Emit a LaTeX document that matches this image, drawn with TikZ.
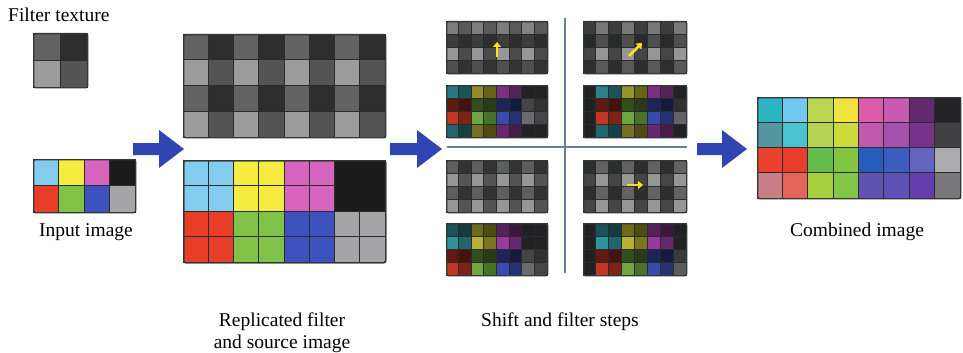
\documentclass[tikz,border=0pt]{standalone}
\usepackage{fontspec}
\setmainfont{Liberation Serif}
\usetikzlibrary{arrows.meta}
% base colours
\definecolor{sky}{RGB}{130,205,238}
\definecolor{tsky}{RGB}{60,185,200}
\definecolor{yel}{RGB}{245,235,65}
\definecolor{mag}{RGB}{215,100,190}
\definecolor{pmag}{RGB}{190,70,200}
\definecolor{blk}{RGB}{28,28,28}
\definecolor{nb}{RGB}{34,34,36}
\definecolor{red}{RGB}{232,62,40}
\definecolor{grn}{RGB}{128,195,72}
\definecolor{blu}{RGB}{62,82,190}
\definecolor{gry}{RGB}{165,165,168}
\definecolor{f1}{gray}{0.39}
\definecolor{f2}{gray}{0.18}
\definecolor{f3}{gray}{0.61}
\definecolor{f4}{gray}{0.33}
\definecolor{gridline}{RGB}{40,44,44}
\definecolor{framec}{RGB}{50,55,55}
\definecolor{arrowblue}{RGB}{48,68,178}
\definecolor{sepline}{RGB}{100,130,145}
\definecolor{yarr}{RGB}{250,222,40}
% combined image
\definecolor{ca1}{RGB}{45,180,195}\definecolor{ca2}{RGB}{115,200,240}\definecolor{ca3}{RGB}{185,215,80}\definecolor{ca4}{RGB}{240,228,60}
\definecolor{ca5}{RGB}{222,92,172}\definecolor{ca6}{RGB}{200,90,175}\definecolor{ca7}{RGB}{100,40,110}\definecolor{ca8}{RGB}{35,35,38}
\definecolor{cb1}{RGB}{85,150,160}\definecolor{cb2}{RGB}{75,195,208}\definecolor{cb3}{RGB}{180,212,82}\definecolor{cb4}{RGB}{205,218,60}
\definecolor{cb5}{RGB}{192,90,172}\definecolor{cb6}{RGB}{165,82,175}\definecolor{cb7}{RGB}{120,50,140}\definecolor{cb8}{RGB}{65,65,68}
\definecolor{cc1}{RGB}{235,65,45}\definecolor{cc2}{RGB}{232,60,45}\definecolor{cc3}{RGB}{100,188,75}\definecolor{cc4}{RGB}{130,196,65}
\definecolor{cc5}{RGB}{40,92,188}\definecolor{cc6}{RGB}{60,92,192}\definecolor{cc7}{RGB}{100,100,192}\definecolor{cc8}{RGB}{172,172,175}
\definecolor{cd1}{RGB}{200,125,135}\definecolor{cd2}{RGB}{228,100,92}\definecolor{cd3}{RGB}{165,208,60}\definecolor{cd4}{RGB}{130,200,70}
\definecolor{cd5}{RGB}{95,82,178}\definecolor{cd6}{RGB}{95,80,182}\definecolor{cd7}{RGB}{100,62,172}\definecolor{cd8}{RGB}{120,120,122}

\tikzset{
  frame/.style={draw=framec, line width=1.3pt, rounded corners=1.5pt, inner sep=0pt, anchor=north west},
  cellbox/.style={draw=gridline, line width=0.9pt},
  lbl/.style={font=\fontsize{19.5}{22}\selectfont, inner sep=0pt, text=black},
  blockarrow/.style={fill=arrowblue},
  yarrow/.style={draw=yarr, line width=2.6pt, -{Triangle[length=5pt,width=8pt]}},
  sep/.style={draw=sepline, line width=1.8pt}
}
% #1 name, #2 x0, #3 y0, #4 ncols, #5 nrows, #6 width, #7 height, #8 rows
\newcommand\cellgrid[8]{%
  \foreach \rowlist [count=\rr] in {#8} {
    \foreach \cc [count=\kk] in \rowlist {
      \path[cellbox, fill=\cc] ({#2+(\kk-1)*#6/#4},{#3+(\rr-1)*#7/#5}) rectangle ++({#6/#4},{#7/#5});
    }
  }
  \node[frame, minimum width=#6pt, minimum height=#7pt] (#1) at (#2,#3) {};
}
% #1 x start, #2 x tip, #3 y centre
\newcommand\blockarr[3]{%
  \path[blockarrow] (#1,{#3-6}) -- ({#2-25},{#3-6}) -- ({#2-25},{#3-19}) -- (#2,#3)
    -- ({#2-25},{#3+19}) -- ({#2-25},{#3+6}) -- (#1,{#3+6}) -- cycle;
}

\begin{document}
\begin{tikzpicture}[x=1pt,y=-1pt]
\path[fill=white, use as bounding box] (0,0) rectangle (963,353);

% filter texture
\node[lbl, anchor=base west] (tfilter) at (8,22) {Filter texture};
\cellgrid{filt}{33}{33}{2}{2}{54}{54}{{f1,f2},{f3,f4}}

% input image
\cellgrid{inp}{33}{159}{4}{2}{102}{53}{{sky,yel,mag,blk},{red,grn,blu,gry}}
\node[lbl, anchor=base] (tinp) at (86,236) {Input image};

% replicated filter and source
\cellgrid{repf}{183}{34}{8}{4}{202}{103}{{f1,f2,f1,f2,f1,f2,f1,f2},{f3,f4,f3,f4,f3,f4,f3,f4},{f1,f2,f1,f2,f1,f2,f1,f2},{f3,f4,f3,f4,f3,f4,f3,f4}}
\cellgrid{reps}{183}{160}{8}{4}{202}{102}{{sky,sky,yel,yel,mag,mag,blk,blk},{sky,sky,yel,yel,mag,mag,blk,blk},{red,red,grn,grn,blu,blu,gry,gry},{red,red,grn,grn,blu,blu,gry,gry}}
\path[fill=blk] (335.5,160.5) rectangle (384.5,210.5);
\node[frame, minimum width=202pt, minimum height=102pt] (repsframe) at (183,160) {};
\node[lbl, anchor=base] (trep1) at (282,326) {Replicated filter};
\node[lbl, anchor=base] (trep2) at (282,348) {and source image};

% shift and filter steps: top-left (shift up)
\cellgrid{tlf}{446}{21}{8}{4}{101}{52}{{black!51,black!65,black!51,black!65,black!51,black!65,black!49,black!65},{black!76,black!82,black!76,black!82,black!76,black!82,black!76,black!82},{black!41,black!71,black!41,black!71,black!41,black!71,black!41,black!71},{black!69,black!80,black!69,black!80,black!69,black!80,black!69,black!80}}
\cellgrid{tls}{446}{85}{8}{4}{101}{52}{{tsky!65!black,tsky!45!black,yel!60!black,yel!42!black,pmag!65!black,pmag!45!black,nb,nb},{red!42!black,red!30!black,grn!40!black,grn!30!black,blu!45!black,blu!33!black,gry!42!black,gry!30!black},{red!85!black,red!55!black,grn!85!black,grn!58!black,blu!90!black,blu!60!black,gry!65!black,gry!42!black},{tsky!55!black,tsky!35!black,yel!48!black,yel!32!black,pmag!55!black,pmag!38!black,nb,nb}}
% bottom-left (no shift)
\cellgrid{llf}{446}{160}{8}{4}{101}{52}{{black!63,black!80,black!63,black!80,black!63,black!80,black!63,black!80},{black!41,black!67,black!41,black!67,black!41,black!67,black!41,black!67},{black!63,black!80,black!63,black!80,black!63,black!80,black!63,black!80},{black!41,black!67,black!41,black!67,black!41,black!67,black!41,black!67}}
\cellgrid{lls}{446}{223}{8}{4}{101}{52}{{tsky!45!black,tsky!32!black,yel!45!black,yel!32!black,pmag!45!black,pmag!32!black,nb,nb},{tsky!80!black,tsky!55!black,yel!75!black,yel!50!black,pmag!80!black,pmag!55!black,nb,nb},{red!42!black,red!30!black,grn!40!black,grn!30!black,blu!45!black,blu!33!black,gry!42!black,gry!30!black},{red!85!black,red!55!black,grn!85!black,grn!58!black,blu!90!black,blu!60!black,gry!65!black,gry!42!black}}
% top-right (shift diagonal)
\cellgrid{trf}{583}{21}{8}{4}{103}{52}{{black!76,black!53,black!76,black!53,black!76,black!53,black!76,black!53},{black!84,black!69,black!84,black!69,black!84,black!69,black!84,black!69},{black!73,black!41,black!73,black!41,black!73,black!41,black!73,black!41},{black!82,black!65,black!82,black!65,black!82,black!65,black!82,black!65}}
\cellgrid{trs}{583}{85}{8}{4}{103}{52}{{nb,tsky!70!black,tsky!45!black,yel!62!black,yel!42!black,pmag!65!black,pmag!45!black,nb},{nb,red!42!black,red!30!black,grn!40!black,grn!30!black,blu!45!black,blu!33!black,gry!30!black},{nb,red!85!black,red!55!black,grn!85!black,grn!58!black,blu!90!black,blu!60!black,gry!60!black},{nb,tsky!55!black,tsky!35!black,yel!48!black,yel!32!black,pmag!55!black,pmag!38!black,nb}}
% bottom-right (shift right)
\cellgrid{lrf}{583}{160}{8}{4}{103}{52}{{black!82,black!61,black!82,black!61,black!82,black!61,black!82,black!61},{black!73,black!41,black!73,black!41,black!73,black!41,black!73,black!41},{black!82,black!61,black!82,black!61,black!82,black!61,black!82,black!61},{black!73,black!41,black!73,black!41,black!73,black!41,black!73,black!41}}
\cellgrid{lrs}{583}{223}{8}{4}{103}{52}{{nb,tsky!45!black,tsky!32!black,yel!45!black,yel!32!black,pmag!45!black,pmag!32!black,nb},{nb,tsky!80!black,tsky!55!black,yel!75!black,yel!50!black,pmag!80!black,pmag!55!black,nb},{nb,red!42!black,red!30!black,grn!40!black,grn!30!black,blu!45!black,blu!33!black,gry!35!black},{nb,red!85!black,red!55!black,grn!85!black,grn!58!black,blu!90!black,blu!60!black,gry!55!black}}

% shift direction marks
\coordinate (ya1) at (497,57); \coordinate (yb1) at (497,42);
\coordinate (ya2) at (629,56); \coordinate (yb2) at (642,43);
\coordinate (ya3) at (627,185); \coordinate (yb3) at (643,185);
\draw[yarrow] (ya1) -- (yb1);
\draw[yarrow] (ya2) -- (yb2);
\draw[yarrow] (ya3) -- (yb3);

% separator lines
\coordinate (vt) at (565,18); \coordinate (vb) at (565,273);
\coordinate (hl) at (447,147); \coordinate (hr) at (687,147);
\draw[sep] (vt) -- (vb);
\draw[sep] (hl) -- (hr);
\node[lbl, anchor=base] (tshift) at (560,326) {Shift and filter steps};

% combined image
\cellgrid{comb}{757}{97}{8}{4}{203}{101}{{ca1,ca2,ca3,ca4,ca5,ca6,ca7,ca8},{cb1,cb2,cb3,cb4,cb5,cb6,cb7,cb8},{cc1,cc2,cc3,cc4,cc5,cc6,cc7,cc8},{cd1,cd2,cd3,cd4,cd5,cd6,cd7,cd8}}
\node[lbl, anchor=base] (tcomb) at (857,236) {Combined image};

% block arrows
\blockarr{133}{184}{149}
\blockarr{390}{442}{149}
\blockarr{697}{747}{149}
\end{tikzpicture}
\end{document}
